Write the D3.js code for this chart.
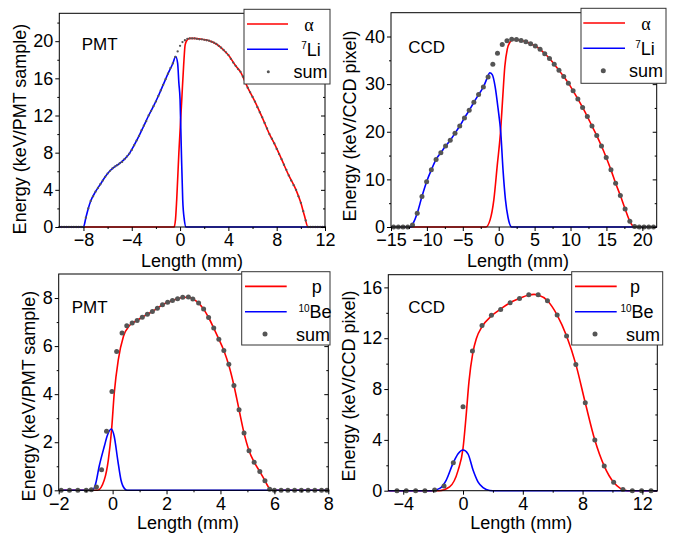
<!DOCTYPE html>
<html><head><meta charset="utf-8">
<script src="https://cdn.jsdelivr.net/npm/d3@7"></script>
<style>
body{margin:0;background:#fff}
svg{display:block}
text{font-family:Arial,"Liberation Sans",sans-serif}
</style>
</head><body>
<svg id="c" width="683" height="535"></svg>
<script>
// ---------------- DATA ----------------
// Panel 1: PMT, alpha / 7Li
const pmtLiSum = [[-10,0],[-9.8,0],[-9.6,0],[-9.4,0],[-9.2,0],[-9,0],[-8.8,0],[-8.6,0],[-8.4,0],[-8.2,0],[-8,0],
[-7.8,1.0],[-7.6,2.0],[-7.4,2.8],[-7.2,3.3],[-7,3.8],[-6.8,4.2],[-6.6,4.6],[-6.4,5.0],[-6.2,5.4],[-6,5.75],[-5.8,6.05],[-5.6,6.3],[-5.4,6.5],[-5.2,6.65],[-5,6.85],[-4.8,7.0],[-4.6,7.3],[-4.4,7.6],[-4.2,7.9],[-4,8.3],[-3.8,8.8],[-3.6,9.3],[-3.4,9.8],[-3.2,10.4],[-3,10.9],[-2.8,11.4],[-2.6,12.0],[-2.4,12.5],[-2.2,13.0],[-2,13.5],[-1.8,14.1],[-1.6,14.7],[-1.4,15.3],[-1.2,15.9],[-1,16.5],[-0.8,17.1],[-0.6,17.6],[-0.4,18.3],[-0.2,18.9],[0,19.5],[0.2,19.9],[0.4,20.1],[0.6,20.25],[0.8,20.3],[1,20.3],[1.2,20.3],[1.4,20.25],[1.6,20.2],[1.8,20.2],[2,20.15],[2.2,20.1],[2.4,20.05],[2.6,19.95],[2.8,19.85],[3,19.7],[3.2,19.5],[3.4,19.3],[3.6,19.05],[3.8,18.8],[4,18.5],[4.2,18.1],[4.4,17.7],[4.6,17.35],[4.8,17.0],[5,16.7],[5.2,16.2],[5.4,15.6],[5.6,15.0],[5.8,14.5],[6,14.0],[6.2,13.5],[6.4,12.9],[6.6,12.35],[6.8,11.8],[7,11.2],[7.2,10.6],[7.4,10.0],[7.6,9.5],[7.8,9.0],[8,8.4],[8.2,7.85],[8.4,7.3],[8.6,6.7],[8.8,6.15],[9,5.55],[9.2,5.0],[9.4,4.5],[9.6,4.0],[9.8,3.3],[10,2.6],[10.2,1.7],[10.4,0.7],[10.6,0],[10.8,0],[11,0],[11.2,0],[11.4,0],[11.6,0],[11.8,0],[12,0]];
const pmtAlpha = [[-10,0],[-0.5,0],[-0.38,0.8],[-0.28,2.9],[-0.1,8.0],[0.14,13.7],[0.3,17.5],[0.42,19.6],[0.6,20.15],[0.8,20.3],[1.2,20.3],[1.8,20.2],[2.4,20.05],[3.0,19.7],[3.6,19.05],[4.0,18.5],[4.6,17.35],[5.0,16.7],[5.6,15.0],[6.2,13.5],[6.8,11.8],[7.4,10.0],[7.8,9.0],[8.4,7.3],[9.0,5.55],[9.6,4.0],[10.0,2.6],[10.3,1.2],[10.6,0],[12,0]];
const pmtLi = [[-10,0],[-8.0,0],[-7.8,1.0],[-7.6,2.0],[-7.4,2.8],[-7.0,3.8],[-6.6,4.6],[-6.2,5.4],[-5.8,6.05],[-5.4,6.5],[-5.0,6.85],[-4.6,7.3],[-4.2,7.9],[-3.8,8.8],[-3.4,9.8],[-3.0,10.9],[-2.6,12.0],[-2.2,13.0],[-1.8,14.1],[-1.4,15.3],[-1.0,16.5],[-0.6,17.6],[-0.36,18.35],[-0.2,17.6],[-0.1,15.5],[0,13.7],[0.1,8.5],[0.22,2.9],[0.35,0.8],[0.5,0],[12,0]];

// Panel 2: CCD, alpha / 7Li
const ccdLiSum = [[-14.64,0],[-13.98,0],[-13.33,0],[-12.67,0],[-12.01,0.4],[-11.35,2.9],[-10.69,6.4],[-10.04,9.5],[-9.38,12.0],[-8.72,14.2],[-8.06,15.6],[-7.40,17.0],[-6.75,18.2],[-6.09,19.7],[-5.43,21.2],[-4.77,22.9],[-4.11,24.5],[-3.46,26.2],[-2.80,27.8],[-2.14,29.4],[-1.48,31.5],[-0.82,34.2],[-0.17,36.5],[0.49,38.3],[1.15,39.1],[1.81,39.4],[2.47,39.35],[3.12,39.15],[3.78,38.9],[4.44,38.5],[5.10,38.0],[5.76,37.3],[6.41,36.4],[7.07,35.4],[7.73,34.2],[8.39,32.9],[9.05,31.6],[9.70,30.2],[10.36,28.6],[11.02,26.9],[11.68,25.1],[12.34,23.2],[12.99,21.2],[13.65,19.2],[14.31,17.0],[14.97,14.6],[15.63,12.0],[16.28,9.2],[16.94,6.6],[17.60,3.8],[18.26,1.2],[18.92,0.1],[19.57,0],[20.23,0],[20.89,0],[21.55,0]];
const ccdAlpha = [[-15,0],[-1.8,0],[-1.2,1.5],[-0.68,5.7],[-0.2,13],[0.24,19.7],[0.55,27],[0.85,33.7],[1.2,37.4],[1.6,38.9],[2.0,39.4],[2.47,39.35],[3.12,39.15],[3.78,38.9],[4.44,38.5],[5.10,38.0],[5.76,37.3],[6.41,36.4],[7.07,35.4],[7.73,34.2],[8.39,32.9],[9.05,31.6],[9.70,30.2],[10.36,28.6],[11.02,26.9],[11.68,25.1],[12.34,23.2],[12.99,21.2],[13.65,19.2],[14.31,17.0],[14.97,14.6],[15.63,12.0],[16.28,9.2],[16.94,6.6],[17.60,3.8],[18.26,1.2],[18.7,0.2],[19.0,0],[22,0]];
const ccdLi = [[-15,0],[-12.2,0],[-11.9,0.8],[-11.35,2.9],[-10.69,6.4],[-10.04,9.5],[-9.38,12.0],[-8.72,14.2],[-8.06,15.6],[-7.40,17.0],[-6.75,18.2],[-6.09,19.7],[-5.43,21.2],[-4.77,22.9],[-4.11,24.5],[-3.46,26.2],[-2.80,27.8],[-2.14,29.4],[-1.6,31.3],[-1.24,32.4],[-0.9,32.0],[-0.5,29.5],[-0.1,25],[0.29,19.7],[0.6,12],[0.94,5.7],[1.3,2.0],[1.8,0],[22,0]];

// Panel 3: PMT, p / 10Be
const pmtBeSum = [[-1.91,0],[-1.6,0],[-1.29,0],[-0.98,0],[-0.79,0.02],[-0.6,0.14],[-0.41,0.85],[-0.225,2.46],[-0.025,4.11],[0.15,5.78],[0.35,6.54],[0.525,6.85],[0.725,6.96],[0.91,7.06],[1.1,7.2],[1.29,7.33],[1.475,7.44],[1.66,7.58],[1.85,7.72],[2.04,7.82],[2.22,7.9],[2.41,7.97],[2.6,8.03],[2.81,8.04],[2.975,7.96],[3.19,7.79],[3.375,7.54],[3.56,7.19],[3.75,6.75],[3.94,6.29],[4.125,5.82],[4.31,5.25],[4.5,4.36],[4.69,3.35],[4.875,2.38],[5.06,1.65],[5.25,1.17],[5.46,0.78],[5.65,0.4],[5.825,0.04],[6.0,0],[6.25,0],[6.5,0],[6.75,0],[7.0,0],[7.25,0],[7.5,0],[7.75,0],[7.95,0]];
const pmtP = [[-2,0],[-0.56,0],[-0.31,0.43],[-0.16,1.26],[-0.04,2.5],[0.06,4.04],[0.21,5.43],[0.4,6.4],[0.62,6.85],[0.8,7.0],[1.1,7.2],[1.29,7.33],[1.475,7.44],[1.66,7.58],[1.85,7.72],[2.04,7.82],[2.22,7.9],[2.41,7.97],[2.6,8.02],[2.81,8.03],[2.975,7.96],[3.19,7.79],[3.375,7.54],[3.56,7.19],[3.75,6.75],[3.94,6.29],[4.125,5.82],[4.31,5.2],[4.5,4.36],[4.69,3.35],[4.875,2.38],[5.06,1.65],[5.25,1.17],[5.46,0.78],[5.65,0.4],[5.825,0.06],[5.95,0],[8,0]];
const pmtBe = [[-2,0],[-0.75,0],[-0.625,0.29],[-0.5,0.99],[-0.31,1.82],[-0.19,2.3],[-0.05,2.55],[0.06,2.24],[0.19,1.26],[0.31,0.43],[0.45,0.06],[0.55,0],[8,0]];

// Panel 4: CCD, p / 10Be
const ccdBeSum = [[-4.42,0],[-3.8,0],[-3.17,0],[-2.55,0],[-1.9,0.05],[-1.27,0.37],[-0.65,2.2],[0,6.6],[0.63,11.0],[1.27,13.0],[1.9,13.8],[2.52,14.27],[3.15,14.8],[3.78,15.13],[4.4,15.42],[5.03,15.42],[5.65,14.95],[6.3,13.82],[6.93,12.17],[7.55,9.94],[8.18,6.92],[8.82,3.99],[9.45,1.94],[10.08,0.66],[10.7,0.1],[11.33,0],[11.95,0],[12.58,0]];
const ccdP = [[-5,0],[-1.6,0],[-0.9,0.3],[-0.33,1.6],[0,3.33],[0.2,5.8],[0.4,8.6],[0.65,10.8],[0.9,12.0],[1.27,12.9],[1.9,13.75],[2.52,14.3],[3.15,14.8],[3.78,15.13],[4.4,15.4],[4.75,15.45],[5.03,15.4],[5.65,14.95],[6.3,13.82],[6.93,12.17],[7.55,9.94],[8.18,6.92],[8.82,3.99],[9.45,1.94],[10.08,0.66],[10.5,0.2],[11.0,0],[13,0]];
const ccdBe = [[-5,0],[-2.1,0],[-1.56,0.18],[-1.12,0.84],[-0.67,2.15],[-0.33,2.9],[0,3.2],[0.33,2.9],[0.67,1.63],[1.0,0.7],[1.34,0.24],[1.79,0.02],[2.2,0],[13,0]];

// Ticks
const xTicks1 = [-8,-4,0,4,8,12], xMinor1 = [-6,-2,2,6,10];
const yTicks1 = [0,4,8,12,16,20], yMinor1 = [2,6,10,14,18,22];
const xTicks2 = [-15,-10,-5,0,5,10,15,20], xMinor2 = [-12.5,-7.5,-2.5,2.5,7.5,12.5,17.5];
const yTicks2 = [0,10,20,30,40], yMinor2 = [5,15,25,35];
const xTicks3 = [-2,0,2,4,6,8], xMinor3 = [-1,1,3,5,7];
const yTicks3 = [0,2,4,6,8], yMinor3 = [1,3,5,7];
const xTicks4 = [-4,0,4,8,12], xMinor4 = [-2,2,6,10];
const yTicks4 = [0,4,8,12,16], yMinor4 = [2,6,10,14];

// Labels
const legendTop = [{main:"α", sup:"", serif:true},{main:"Li", sup:"7"},{main:"sum", sup:""}];
const legendBottom = [{main:"p", sup:""},{main:"Be", sup:"10"},{main:"sum", sup:""}];
const xTitle = "Length (mm)";
const yTitlePMT = "Energy (keV/PMT sample)";
const yTitleCCD = "Energy (keV/CCD pixel)";

// ---------------- DRAW ----------------
const svg = d3.select("#c");
const FONT = 'Arial, "Liberation Sans", sans-serif';
const RED = "#ff0000", BLUE = "#0000ff", DOT = "#555555";

function drawPanel(p){
  const b = p.box;
  const x = d3.scaleLinear().domain(p.xd).range([b.l, b.r]);
  const y = d3.scaleLinear().domain(p.yd).range([b.b, b.t]);
  const g = svg.append("g");
  const line = d3.line().x(d=>x(d[0])).y(d=>y(d[1])).curve(d3.curveMonotoneX);

  g.append("path").datum(p.red).attr("d", line).attr("fill","none").attr("stroke",RED).attr("stroke-width",1.6);
  g.append("path").datum(p.blue).attr("d", line).attr("fill","none").attr("stroke",BLUE).attr("stroke-width",1.6);
  g.selectAll("circle.s").data(p.dots).join("circle").attr("class","s")
    .attr("cx",d=>x(d[0])).attr("cy",d=>y(d[1])).attr("r",p.dotR).attr("fill",DOT);

  function styleAxis(sel){
    sel.select(".domain").remove();
    sel.attr("font-family",FONT).attr("font-size",18);
    sel.selectAll("line").attr("stroke","#000");
    sel.selectAll("text").attr("fill","#000");
  }
  g.append("g").attr("transform",`translate(0,${b.b})`)
    .call(d3.axisBottom(x).tickValues(p.xt).tickSize(4).tickPadding(2.5)).call(styleAxis);
  g.append("g").attr("transform",`translate(0,${b.b})`)
    .call(d3.axisBottom(x).tickValues(p.xm).tickSize(2).tickFormat("")).call(styleAxis);
  g.append("g").attr("transform",`translate(${b.l},0)`)
    .call(d3.axisLeft(y).tickValues(p.yt).tickSize(4).tickPadding(2)).call(styleAxis);
  g.append("g").attr("transform",`translate(${b.l},0)`)
    .call(d3.axisLeft(y).tickValues(p.ym).tickSize(2).tickFormat("")).call(styleAxis);
  g.append("g").attr("transform",`translate(${b.r},0)`)
    .call(d3.axisLeft(y).tickValues(p.yt).tickSize(4).tickFormat("")).call(styleAxis);
  g.append("g").attr("transform",`translate(${b.r},0)`)
    .call(d3.axisLeft(y).tickValues(p.ym).tickSize(2).tickFormat("")).call(styleAxis);

  g.append("rect").attr("x",b.l).attr("y",b.t).attr("width",b.r-b.l).attr("height",b.b-b.t)
    .attr("fill","none").attr("stroke","#000").attr("stroke-width",1);

  // tag
  g.append("text").attr("x",p.tag.x).attr("y",p.tag.y).attr("font-size",17).attr("fill","#000").text(p.tag.text);
  // titles
  g.append("text").attr("x",p.xTitle.x).attr("y",p.xTitle.y).attr("text-anchor","middle")
    .attr("font-size",18).attr("fill","#000").text(xTitle);
  g.append("text").attr("transform",`translate(${p.yTitle.x},${p.yTitle.y}) rotate(-90)`)
    .attr("text-anchor","middle").attr("font-size",18).attr("fill","#000").text(p.yTitle.text);

  // legend
  const L = p.legend;
  g.append("rect").attr("x",L.x).attr("y",L.y).attr("width",L.w).attr("height",L.h)
    .attr("fill","#fff").attr("stroke","#333").attr("stroke-width",1);
  const rows = [L.y+14.7, L.y+40, L.y+62.4];
  g.append("line").attr("x1",L.lx1).attr("x2",L.lx2).attr("y1",rows[0]).attr("y2",rows[0]).attr("stroke",RED).attr("stroke-width",1.6);
  g.append("line").attr("x1",L.lx1).attr("x2",L.lx2).attr("y1",rows[1]).attr("y2",rows[1]).attr("stroke",BLUE).attr("stroke-width",1.6);
  g.append("circle").attr("cx",L.dx).attr("cy",rows[2]).attr("r",L.dr).attr("fill",DOT);
  p.labels.forEach((lab,i)=>{
    const t = g.append("text").attr("x",L.tx[i]).attr("y",rows[i]+6.6).attr("text-anchor","middle")
      .attr("font-size",18).attr("fill","#000");
    if(lab.serif) t.style("font-family",'"Liberation Serif","DejaVu Serif",serif');
    if(lab.sup){
      t.append("tspan").attr("font-size",10).attr("dy",-6.5).text(lab.sup);
      t.append("tspan").attr("dy",6.5).text(lab.main);
    } else t.text(lab.main);
  });
}

drawPanel({box:{l:59.3,r:325,t:13.3,b:227}, xd:[-10,12], yd:[0,23],
  xt:xTicks1, xm:xMinor1, yt:yTicks1, ym:yMinor1,
  red:pmtAlpha, blue:pmtLi, dots:pmtLiSum, dotR:1.15,
  tag:{text:"PMT",x:81.7,y:50}, xTitle:{x:192,y:266.5}, yTitle:{text:yTitlePMT,x:26.2,y:129},
  legend:{x:244,y:9.3,w:86,h:74.7,lx1:247,lx2:288,dx:268.3,dr:1.5,tx:[309,311,310.5]}, labels:legendTop});

drawPanel({box:{l:391,r:656.7,t:12.7,b:227}, xd:[-15,22], yd:[0,45],
  xt:xTicks2, xm:xMinor2, yt:yTicks2, ym:yMinor2,
  red:ccdAlpha, blue:ccdLi, dots:ccdLiSum, dotR:2.5,
  tag:{text:"CCD",x:408.3,y:53.3}, xTitle:{x:518,y:266.5}, yTitle:{text:yTitleCCD,x:356.2,y:126},
  legend:{x:581,y:8.3,w:85,h:75,lx1:583.3,lx2:625,dx:603.3,dr:2.5,tx:[646,645,646]}, labels:legendTop});

drawPanel({box:{l:58.7,r:328.3,t:274,b:490.3}, xd:[-2,8], yd:[0,9],
  xt:xTicks3, xm:xMinor3, yt:yTicks3, ym:yMinor3,
  red:pmtP, blue:pmtBe, dots:pmtBeSum, dotR:2.5,
  tag:{text:"PMT",x:71.7,y:312.7}, xTitle:{x:188,y:529}, yTitle:{text:yTitlePMT,x:34.6,y:396},
  legend:{x:241.7,y:271.7,w:88.3,h:73.3,lx1:245,lx2:286.7,dx:265,dr:2.5,tx:[316.7,315,313]}, labels:legendBottom});

drawPanel({box:{l:388.3,r:657.3,t:274.7,b:490.7}, xd:[-5,13], yd:[0,17],
  xt:xTicks4, xm:xMinor4, yt:yTicks4, ym:yMinor4,
  red:ccdP, blue:ccdBe, dots:ccdBeSum, dotR:2.5,
  tag:{text:"CCD",x:408.3,y:313.3}, xTitle:{x:521.3,y:529}, yTitle:{text:yTitleCCD,x:354.6,y:386},
  legend:{x:571.7,y:271.7,w:91,h:73.3,lx1:575,lx2:616.7,dx:595,dr:2.5,tx:[635,637,643]}, labels:legendBottom});
</script>
</body></html>
